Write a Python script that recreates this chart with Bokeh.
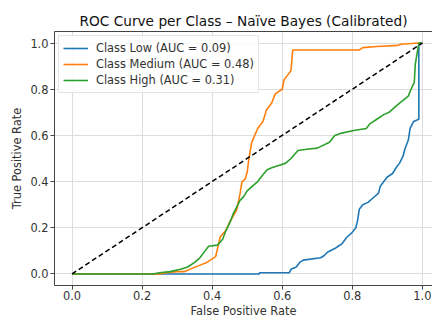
from bokeh.plotting import figure
from bokeh.models import FixedTicker, PrintfTickFormatter, Range1d, Legend, LegendItem, LinearAxis
from bokeh.embed import file_html
from bokeh.resources import INLINE

# ---- data ----
low_fpr = [0, 0.535, 0.535, 0.62, 0.625, 0.64, 0.65, 0.66, 0.71, 0.72, 0.73, 0.75, 0.76, 0.77,
           0.785, 0.80, 0.81, 0.815, 0.82, 0.83, 0.845, 0.86, 0.875, 0.88, 0.89, 0.90, 0.915,
           0.925, 0.935, 0.945, 0.95, 0.96, 0.965, 0.975, 0.99, 0.99, 1.0]
low_tpr = [0, 0, 0.005, 0.005, 0.02, 0.03, 0.05, 0.06, 0.07, 0.08, 0.095, 0.11, 0.12, 0.13,
           0.16, 0.18, 0.20, 0.23, 0.28, 0.30, 0.31, 0.33, 0.35, 0.38, 0.40, 0.42, 0.435,
           0.46, 0.48, 0.51, 0.54, 0.58, 0.63, 0.66, 0.67, 1.0, 1.0]

med_fpr = [0, 0.25, 0.27, 0.30, 0.32, 0.36, 0.385, 0.41, 0.423, 0.44, 0.45, 0.46, 0.47, 0.48,
           0.485, 0.494, 0.50, 0.505, 0.513, 0.53, 0.545, 0.555, 0.57, 0.58, 0.60, 0.605,
           0.615, 0.625, 0.63, 0.82, 0.83, 0.87, 0.93, 0.94, 0.99, 1.0]
med_tpr = [0, 0, 0.005, 0.01, 0.01, 0.035, 0.05, 0.075, 0.16, 0.19, 0.225, 0.25, 0.277, 0.35,
           0.40, 0.41, 0.44, 0.50, 0.57, 0.63, 0.66, 0.71, 0.74, 0.78, 0.80, 0.84,
           0.86, 0.88, 0.97, 0.97, 0.98, 0.985, 0.99, 0.995, 1.0, 1.0]

high_fpr = [0, 0.23, 0.25, 0.28, 0.31, 0.33, 0.35, 0.365, 0.38, 0.39, 0.415, 0.43, 0.44, 0.45,
            0.46, 0.47, 0.48, 0.49, 0.50, 0.515, 0.53, 0.545, 0.556, 0.57, 0.59, 0.61, 0.625,
            0.645, 0.67, 0.70, 0.735, 0.75, 0.77, 0.80, 0.84, 0.85, 0.87, 0.89, 0.905, 0.92,
            0.935, 0.96, 0.965, 0.977, 0.98, 0.99, 1.0]
high_tpr = [0, 0, 0.005, 0.01, 0.02, 0.03, 0.05, 0.07, 0.10, 0.12, 0.125, 0.15, 0.19, 0.22,
            0.26, 0.29, 0.32, 0.335, 0.36, 0.38, 0.40, 0.43, 0.45, 0.46, 0.47, 0.48, 0.50,
            0.535, 0.54, 0.545, 0.57, 0.60, 0.61, 0.62, 0.63, 0.65, 0.67, 0.69, 0.70, 0.72,
            0.74, 0.77, 0.79, 0.83, 0.91, 1.0, 1.0]

diag = [0, 1]

class_names = ["Low", "Medium", "High"]
aucs = [0.09, 0.48, 0.31]
colors = ["#1f77b4", "#ff7f0e", "#2ca02c"]
ticks = [0.0, 0.2, 0.4, 0.6, 0.8, 1.0]

FONT = "DejaVu Sans"
SPINE = "#444444"

p = figure(width=432, height=320, output_backend="svg", toolbar_location=None,
           x_range=Range1d(-0.05, 1.029), y_range=Range1d(-0.05, 1.05),
           min_border_left=54, min_border_right=0, min_border_top=31, min_border_bottom=35,
           title="ROC Curve per Class \u2013 Na\u00efve Bayes (Calibrated)")

p.title.align = "center"
p.title.text_font = FONT
p.title.text_font_size = "13.7px"
p.title.text_font_style = "normal"
p.title.text_color = "#111111"
p.title.standoff = 6

p.outline_line_color = None

for ax in (p.xaxis[0], p.yaxis[0]):
    ax.ticker = FixedTicker(ticks=ticks)
    ax.formatter = PrintfTickFormatter(format="%.1f")
    ax.major_label_text_font = FONT
    ax.major_label_text_font_size = "11.4px"
    ax.major_label_text_color = "#333333"
    ax.axis_label_text_font = FONT
    ax.axis_label_text_font_size = "11.4px"
    ax.axis_label_text_font_style = "normal"
    ax.axis_label_text_color = "#333333"
    ax.axis_line_color = SPINE
    ax.major_tick_line_color = SPINE
    ax.major_tick_in = 0
    ax.major_tick_out = 4
    ax.minor_tick_line_color = None
    ax.major_label_standoff = 1
    ax.axis_label_standoff = 1

p.yaxis.major_label_standoff = 2
p.yaxis.axis_label_standoff = 3

p.xaxis.axis_label = "False Positive Rate"
p.yaxis.axis_label = "True Positive Rate"

# top spine only (the right side of the original axes is cropped away)
top = LinearAxis(axis_line_color=SPINE, major_tick_line_color=None, minor_tick_line_color=None,
                 major_label_text_font_size="0px", major_label_standoff=0)
top.ticker = FixedTicker(ticks=[])
p.add_layout(top, "above")

p.grid.grid_line_color = "#dddddd"
p.grid.grid_line_width = 1
p.xgrid.ticker = FixedTicker(ticks=ticks)
p.ygrid.ticker = FixedTicker(ticks=ticks)

series = [(low_fpr, low_tpr), (med_fpr, med_tpr), (high_fpr, high_tpr)]
items = []
for (fx, ty), name, auc, col in zip(series, class_names, aucs, colors):
    r = p.line(fx, ty, line_color=col, line_width=1.6)
    items.append(LegendItem(label=f"Class {name} (AUC = {auc:.2f})", renderers=[r]))

p.line(diag, diag, line_color="black", line_width=1.5, line_dash="5 3")

legend = Legend(items=items, location="top_left")
legend.label_text_font = FONT
legend.label_text_font_size = "11.4px"
legend.label_text_color = "#333333"
legend.glyph_width = 25
legend.glyph_height = 16
legend.label_height = 16
legend.label_standoff = 8
legend.spacing = 0
legend.padding = 4
legend.margin = 4
legend.border_line_color = "#cccccc"
legend.border_line_width = 1
legend.background_fill_alpha = 0.85
p.add_layout(legend)

open("out.html", "w").write(file_html(p, INLINE))
